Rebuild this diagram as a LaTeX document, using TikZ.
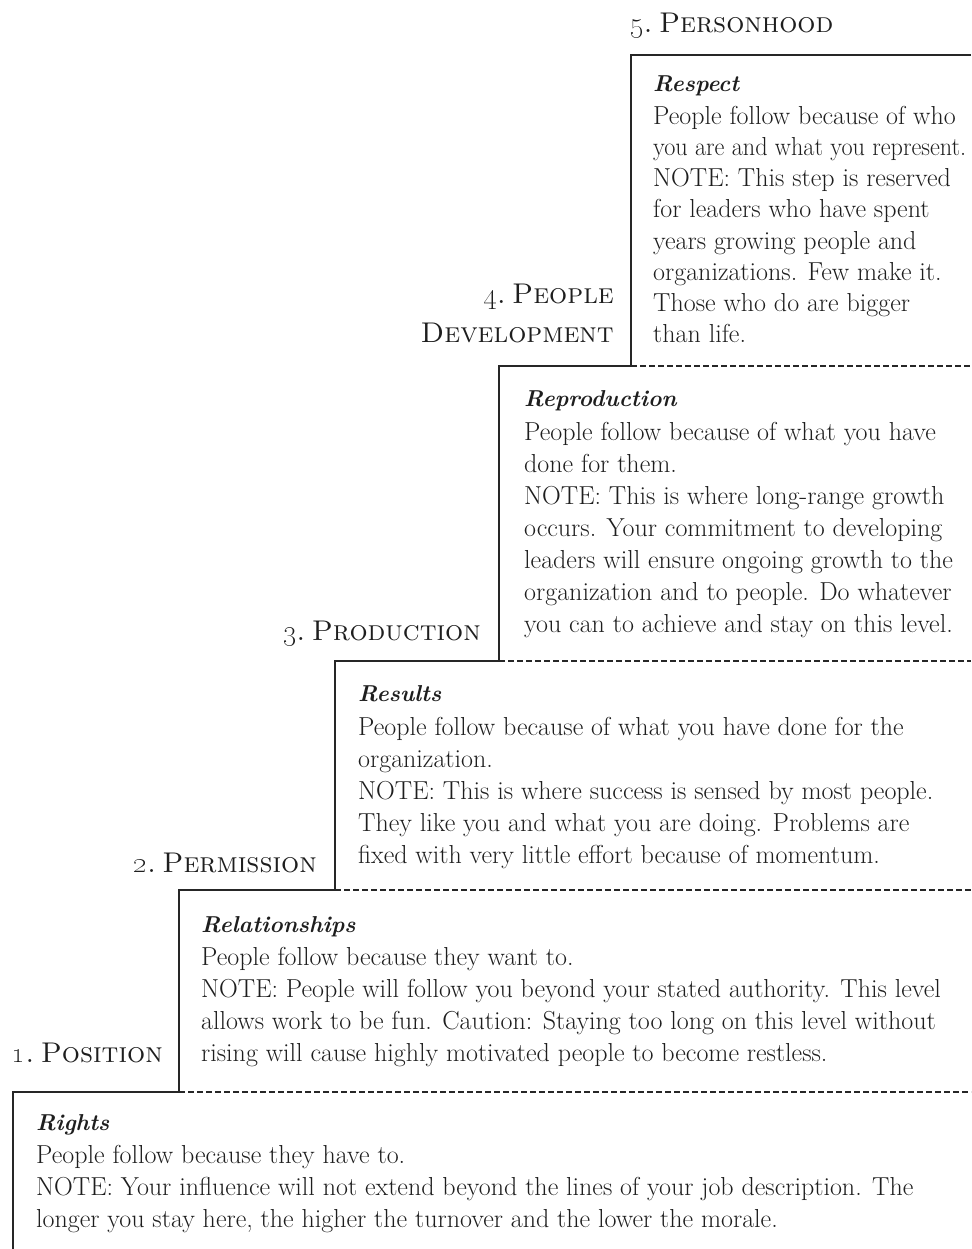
\documentclass[tikz,border=0pt]{standalone}
\usepackage{graphicx}
\definecolor{txt}{HTML}{1E1E1E}
\definecolor{ln}{HTML}{262626}
\tikzset{
  bodytext/.style={font=\fontsize{26}{30}\selectfont, text=txt, inner sep=0pt, anchor=base west},
  titletext/.style={font=\fontsize{23}{27}\selectfont\bfseries\itshape, text=txt, inner sep=0pt, anchor=base west},
  leveltext/.style={font=\fontsize{28.5}{34}\selectfont\scshape, text=txt, inner sep=0pt, anchor=base east},
  stepline/.style={draw=ln, line width=1.5pt},
  dashline/.style={draw=ln, line width=1.2pt, dash pattern=on 6pt off 3pt},
}
\newcommand\lvlnum[1]{\oldstylenums{#1}.\hspace{0.22em}}
\begin{document}
\begin{tikzpicture}[x=1pt,y=-1pt]
\useasboundingbox (0,0) rectangle (971,1249);
% corners
\coordinate (c5) at (631,55);
\coordinate (e5) at (971,55);
\coordinate (c4) at (631,366);
\coordinate (b4) at (499,366);
\coordinate (e4) at (971,366);
\coordinate (c3) at (499,661);
\coordinate (b3) at (335,661);
\coordinate (e3) at (971,661);
\coordinate (c2) at (335,890);
\coordinate (b2) at (179,890);
\coordinate (e2) at (971,890);
\coordinate (c1) at (179,1092);
\coordinate (b1) at (13,1092);
\coordinate (e1) at (971,1092);
\coordinate (bot) at (13,1249);
\draw[stepline] (e5) -- (c5) -- (c4) -- (b4) -- (c3) -- (b3) -- (c2) -- (b2) -- (c1) -- (b1) -- (bot);
\draw[dashline] (c4) -- (e4);
\draw[dashline] (c3) -- (e3);
\draw[dashline] (c2) -- (e2);
\draw[dashline] (c1) -- (e1);

% level labels
\node[leveltext, anchor=base west] (lab5) at (630,33) {\lvlnum{5}Personhood};
\node[leveltext] (lab4a) at (614,303) {\lvlnum{4}People};
\node[leveltext] (lab4b) at (614,342) {Development};
\node[leveltext] (lab3) at (481,640) {\lvlnum{3}Production};
\node[leveltext] (lab2) at (317,872) {\lvlnum{2}Permission};
\node[leveltext] (lab1) at (163,1062) {\lvlnum{1}Position};

% step 5
\node[titletext] (t5) at (653,92) {Respect};
\foreach \s [count=\i from 0] in {
  {People follow because of who},
  {\scalebox{0.93}[1]{you are and what you represent.}},
  {NOTE: This step is reserved},
  {for leaders who have spent},
  {years growing people and},
  {organizations. Few make it.},
  {Those who do are bigger},
  {than life.}}
  \node[bodytext] (s5l\i) at (653,125+31*\i) {\s};

% step 4
\node[titletext] (t4) at (524,406) {Reproduction};
\foreach \s [count=\i from 0] in {
  {People follow because of what you have},
  {done for them.},
  {NOTE: This is where long-range growth},
  {occurs. Your commitment to developing},
  {leaders will ensure ongoing growth to the},
  {organization and to people. Do whatever},
  {you can to achieve and stay on this level.}}
  \node[bodytext] (s4l\i) at (524,440+32*\i) {\s};

% step 3
\node[titletext] (t3) at (358,701) {Results};
\foreach \s [count=\i from 0] in {
  {People follow because of what you have done for the},
  {organization.},
  {NOTE: This is where success is sensed by most people.},
  {They like you and what you are doing. Problems are},
  {fixed with very little effort because of momentum.}}
  \node[bodytext] (s3l\i) at (358,735+32*\i) {\s};

% step 2
\node[titletext] (t2) at (201,932) {Relationships};
\foreach \s [count=\i from 0] in {
  {People follow because they want to.},
  {NOTE: People will follow you beyond your stated authority. This level},
  {allows work to be fun. Caution: Staying too long on this level without},
  {rising will cause highly motivated people to become restless.}}
  \node[bodytext] (s2l\i) at (201,965+32*\i) {\s};

% step 1
\node[titletext] (t1) at (36,1130) {Rights};
\foreach \s [count=\i from 0] in {
  {People follow because they have to.},
  {NOTE: Your influence will not extend beyond the lines of your job description. The},
  {longer you stay here, the higher the turnover and the lower the morale.}}
  \node[bodytext] (s1l\i) at (36,1163+32*\i) {\s};
\end{tikzpicture}
\end{document}
